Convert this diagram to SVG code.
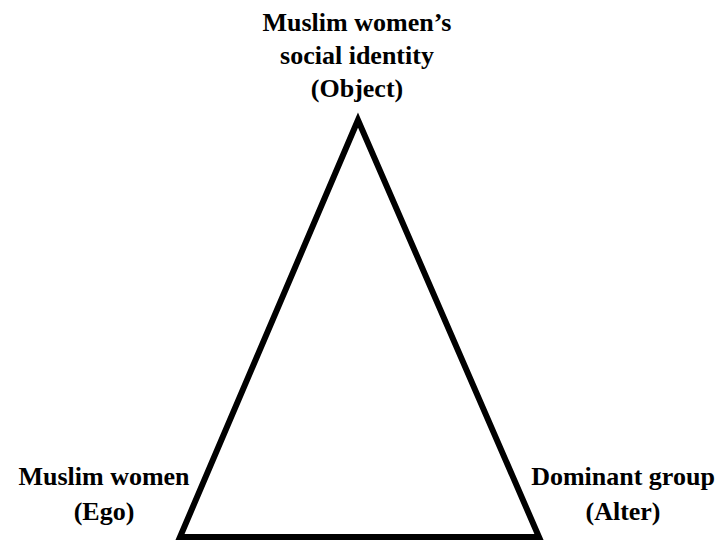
<svg xmlns="http://www.w3.org/2000/svg" width="718" height="540" viewBox="0 0 718 540">
<style>
text{font-family:"Liberation Serif","Times New Roman",serif;font-weight:bold;font-size:26px;fill:#000;text-anchor:middle}
.edge{fill:none;stroke:#000;stroke-width:6;stroke-linejoin:miter}
</style>
<rect width="718" height="540" fill="#fff"/>
<g id="connectors">
<polygon class="edge" points="358,120 180,537 539,537"/>
</g>
<g id="object">
<text x="357" y="31">Muslim women’s</text>
<text x="357" y="64">social identity</text>
<text x="357" y="97">(Object)</text>
</g>
<g id="ego">
<text x="104" y="485">Muslim women</text>
<text x="104" y="520">(Ego)</text>
</g>
<g id="alter">
<text x="623" y="485">Dominant group</text>
<text x="623" y="520">(Alter)</text>
</g>
</svg>
